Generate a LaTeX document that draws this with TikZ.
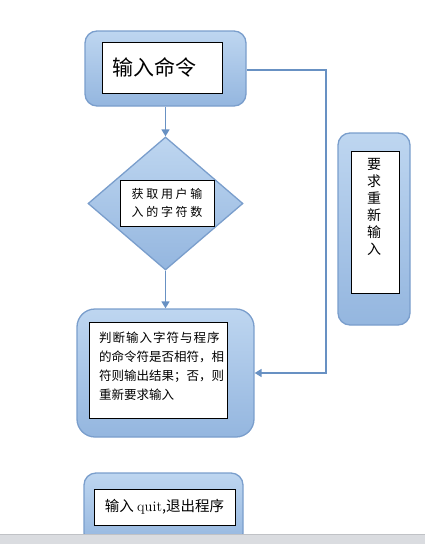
\documentclass[tikz,border=0pt]{standalone}
\usepackage{fontspec}
\newfontfamily\cjk{Noto Sans CJK SC}
\newfontfamily\cjkwide[LetterSpace=22]{Noto Sans CJK SC}
\newfontfamily\cjkmid[LetterSpace=8]{Noto Sans CJK SC}
\usetikzlibrary{shapes.geometric,arrows.meta}
\definecolor{boxtop}{RGB}{190,214,240}
\definecolor{boxbot}{RGB}{148,182,223}
\definecolor{boxline}{RGB}{122,158,204}
\definecolor{conn}{RGB}{104,145,195}
\definecolor{barfill}{RGB}{218,220,224}
\definecolor{barline}{RGB}{192,194,198}
\tikzset{
  outerbox/.style={draw=boxline, line width=1.3pt, top color=boxtop, bottom color=boxbot, inner sep=0pt},
  innerbox/.style={draw=black, line width=0.8pt, fill=white, inner sep=0pt},
  conline/.style={draw=conn, line width=1.6pt},
  conarrow/.style={conline, -{Triangle[width=8pt,length=7pt]}},
}
\begin{document}
\begin{tikzpicture}[x=1pt,y=-1pt]
\useasboundingbox (0,0) rectangle (425,544);
% box 1
\node[outerbox, rounded corners=12pt, minimum width=161pt, minimum height=75pt] (outer1) at (165.5,68.5) {};
\node[innerbox, minimum width=120pt, minimum height=51pt] (in1) at (162,67.5) {};
\node[anchor=west, inner sep=0pt, font=\cjk\fontsize{21}{24}\selectfont] (t1) at (112,67) {输入命令};
% diamond
\node[outerbox, diamond, aspect=1.165, minimum width=155pt, minimum height=133pt] (dia) at (165.5,203.5) {};
\node[innerbox, minimum width=94pt, minimum height=46pt, align=center, font=\cjkwide\fontsize{12}{18}\selectfont] (in2) at (167,203) {获取用户输\\入的字符数};
% box 3
\node[outerbox, rounded corners=18pt, minimum width=177pt, minimum height=128pt] (outer3) at (165.5,373) {};
\node[innerbox, minimum width=138pt, minimum height=96pt] (in3) at (158,370) {};
\node[anchor=north west, inner sep=0pt, align=left, font=\cjk\fontsize{12.5}{19}\selectfont] (t3) at (99,332) {{\cjkmid 判断输入字符与程序}\\的命令符是否相符，相\\符则输出结果；否，则\\重新要求输入};
% side box
\node[outerbox, rounded corners=12pt, minimum width=72pt, minimum height=192pt] (outer4) at (374,229) {};
\node[innerbox, minimum width=48pt, minimum height=142pt] (in4) at (375,222) {};
\node[anchor=north, align=center, inner sep=0pt, font=\cjk\fontsize{14}{17}\selectfont] (vt) at (374,158) {要\\求\\重\\新\\输\\入};
% box 5
\node[outerbox, rounded corners=12pt, minimum width=159pt, minimum height=72pt] (outer5) at (163.5,509) {};
\node[innerbox, minimum width=141pt, minimum height=36pt, font=\cjk\fontsize{14.5}{18}\selectfont] (in5) at (164.5,507) {输入 {\rmfamily quit},退出程序};
% bottom bar
\fill[barfill] (0,534) rectangle (425,545);
\draw[barline, line width=0.8pt] (0,534) -- (425,534);
% connectors
\draw[conarrow] (outer1.south) -- (dia.north);
\draw[conarrow] (dia.south) -- (outer3.north);
\coordinate (corner) at (326,70);
\draw[conarrow] (outer1.east |- corner) -- (corner) -- (corner |- outer3.east) -- (outer3.east);
\end{tikzpicture}
\end{document}
